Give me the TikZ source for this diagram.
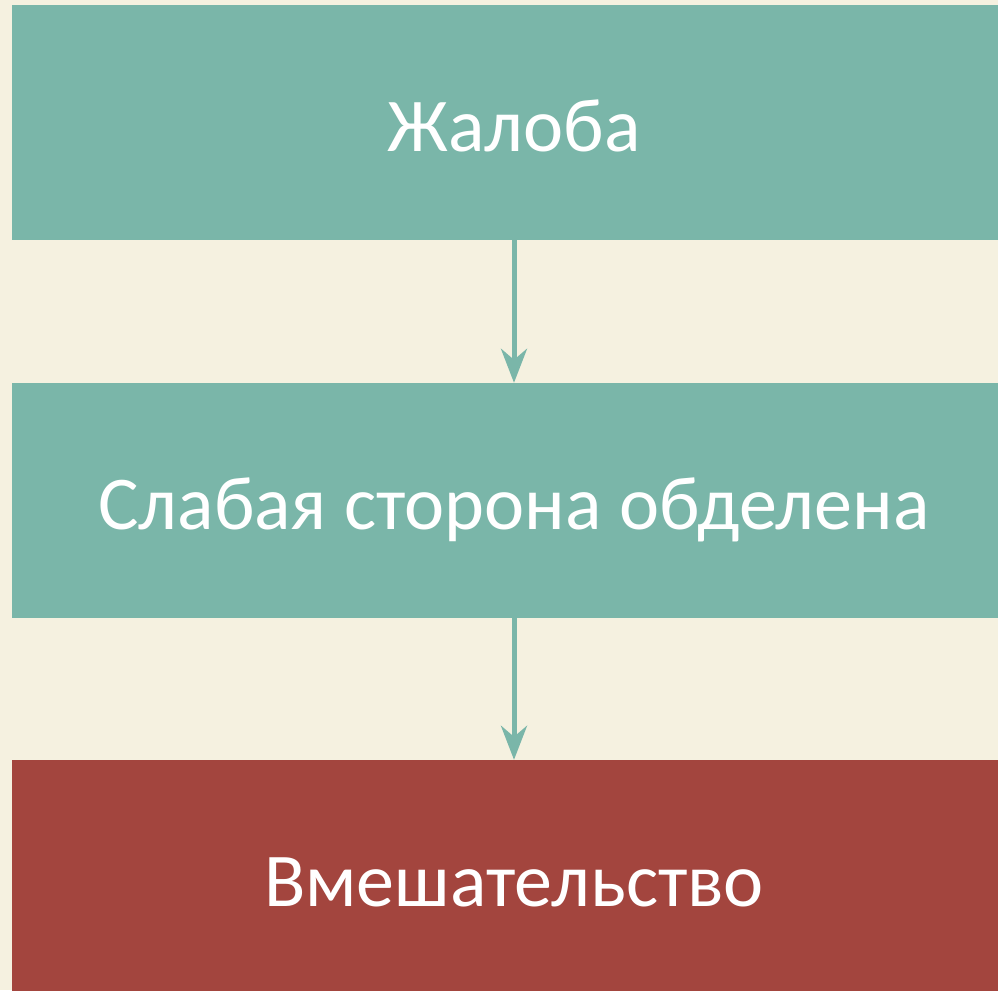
\documentclass[tikz,border=0pt]{standalone}
\usepackage{fontspec}
\setmainfont{Carlito}
\usetikzlibrary{positioning, arrows.meta}
\definecolor{cream}{HTML}{F5F1E0}
\definecolor{sage}{HTML}{7AB6A9}
\definecolor{brick}{HTML}{A3453E}

\begin{document}
\begin{tikzpicture}[x=1pt, y=1pt,
      inner sep=0pt,
      box/.style={rectangle, fill=sage, text=white, minimum width=1004pt,
        minimum height=235pt, text height=57pt, text depth=0pt,
        font=\fontsize{76}{84}\selectfont},
      link/.style={-{Stealth[length=34pt, width=26pt, inset=11pt]},
        line width=5pt, draw=sage}]
      \fill[cream] (0,0) rectangle (998,-990);
      \useasboundingbox (0,0) rectangle (998,-990);
      \clip (0,0) rectangle (998,-990);
      % boxes;
      \node[box] (complaint) at (514,-122.5) {Жалоба};
      \node[box] (weak) at (514,-500.5) {Слабая сторона обделена};
      \node[box, fill=brick] (intervene) at (514,-877.5) {Вмешательство};
      % arrows;
      \draw[link] (complaint) -- (weak);
      \draw[link] (weak) -- (intervene);
  \end{tikzpicture}
\end{document}
